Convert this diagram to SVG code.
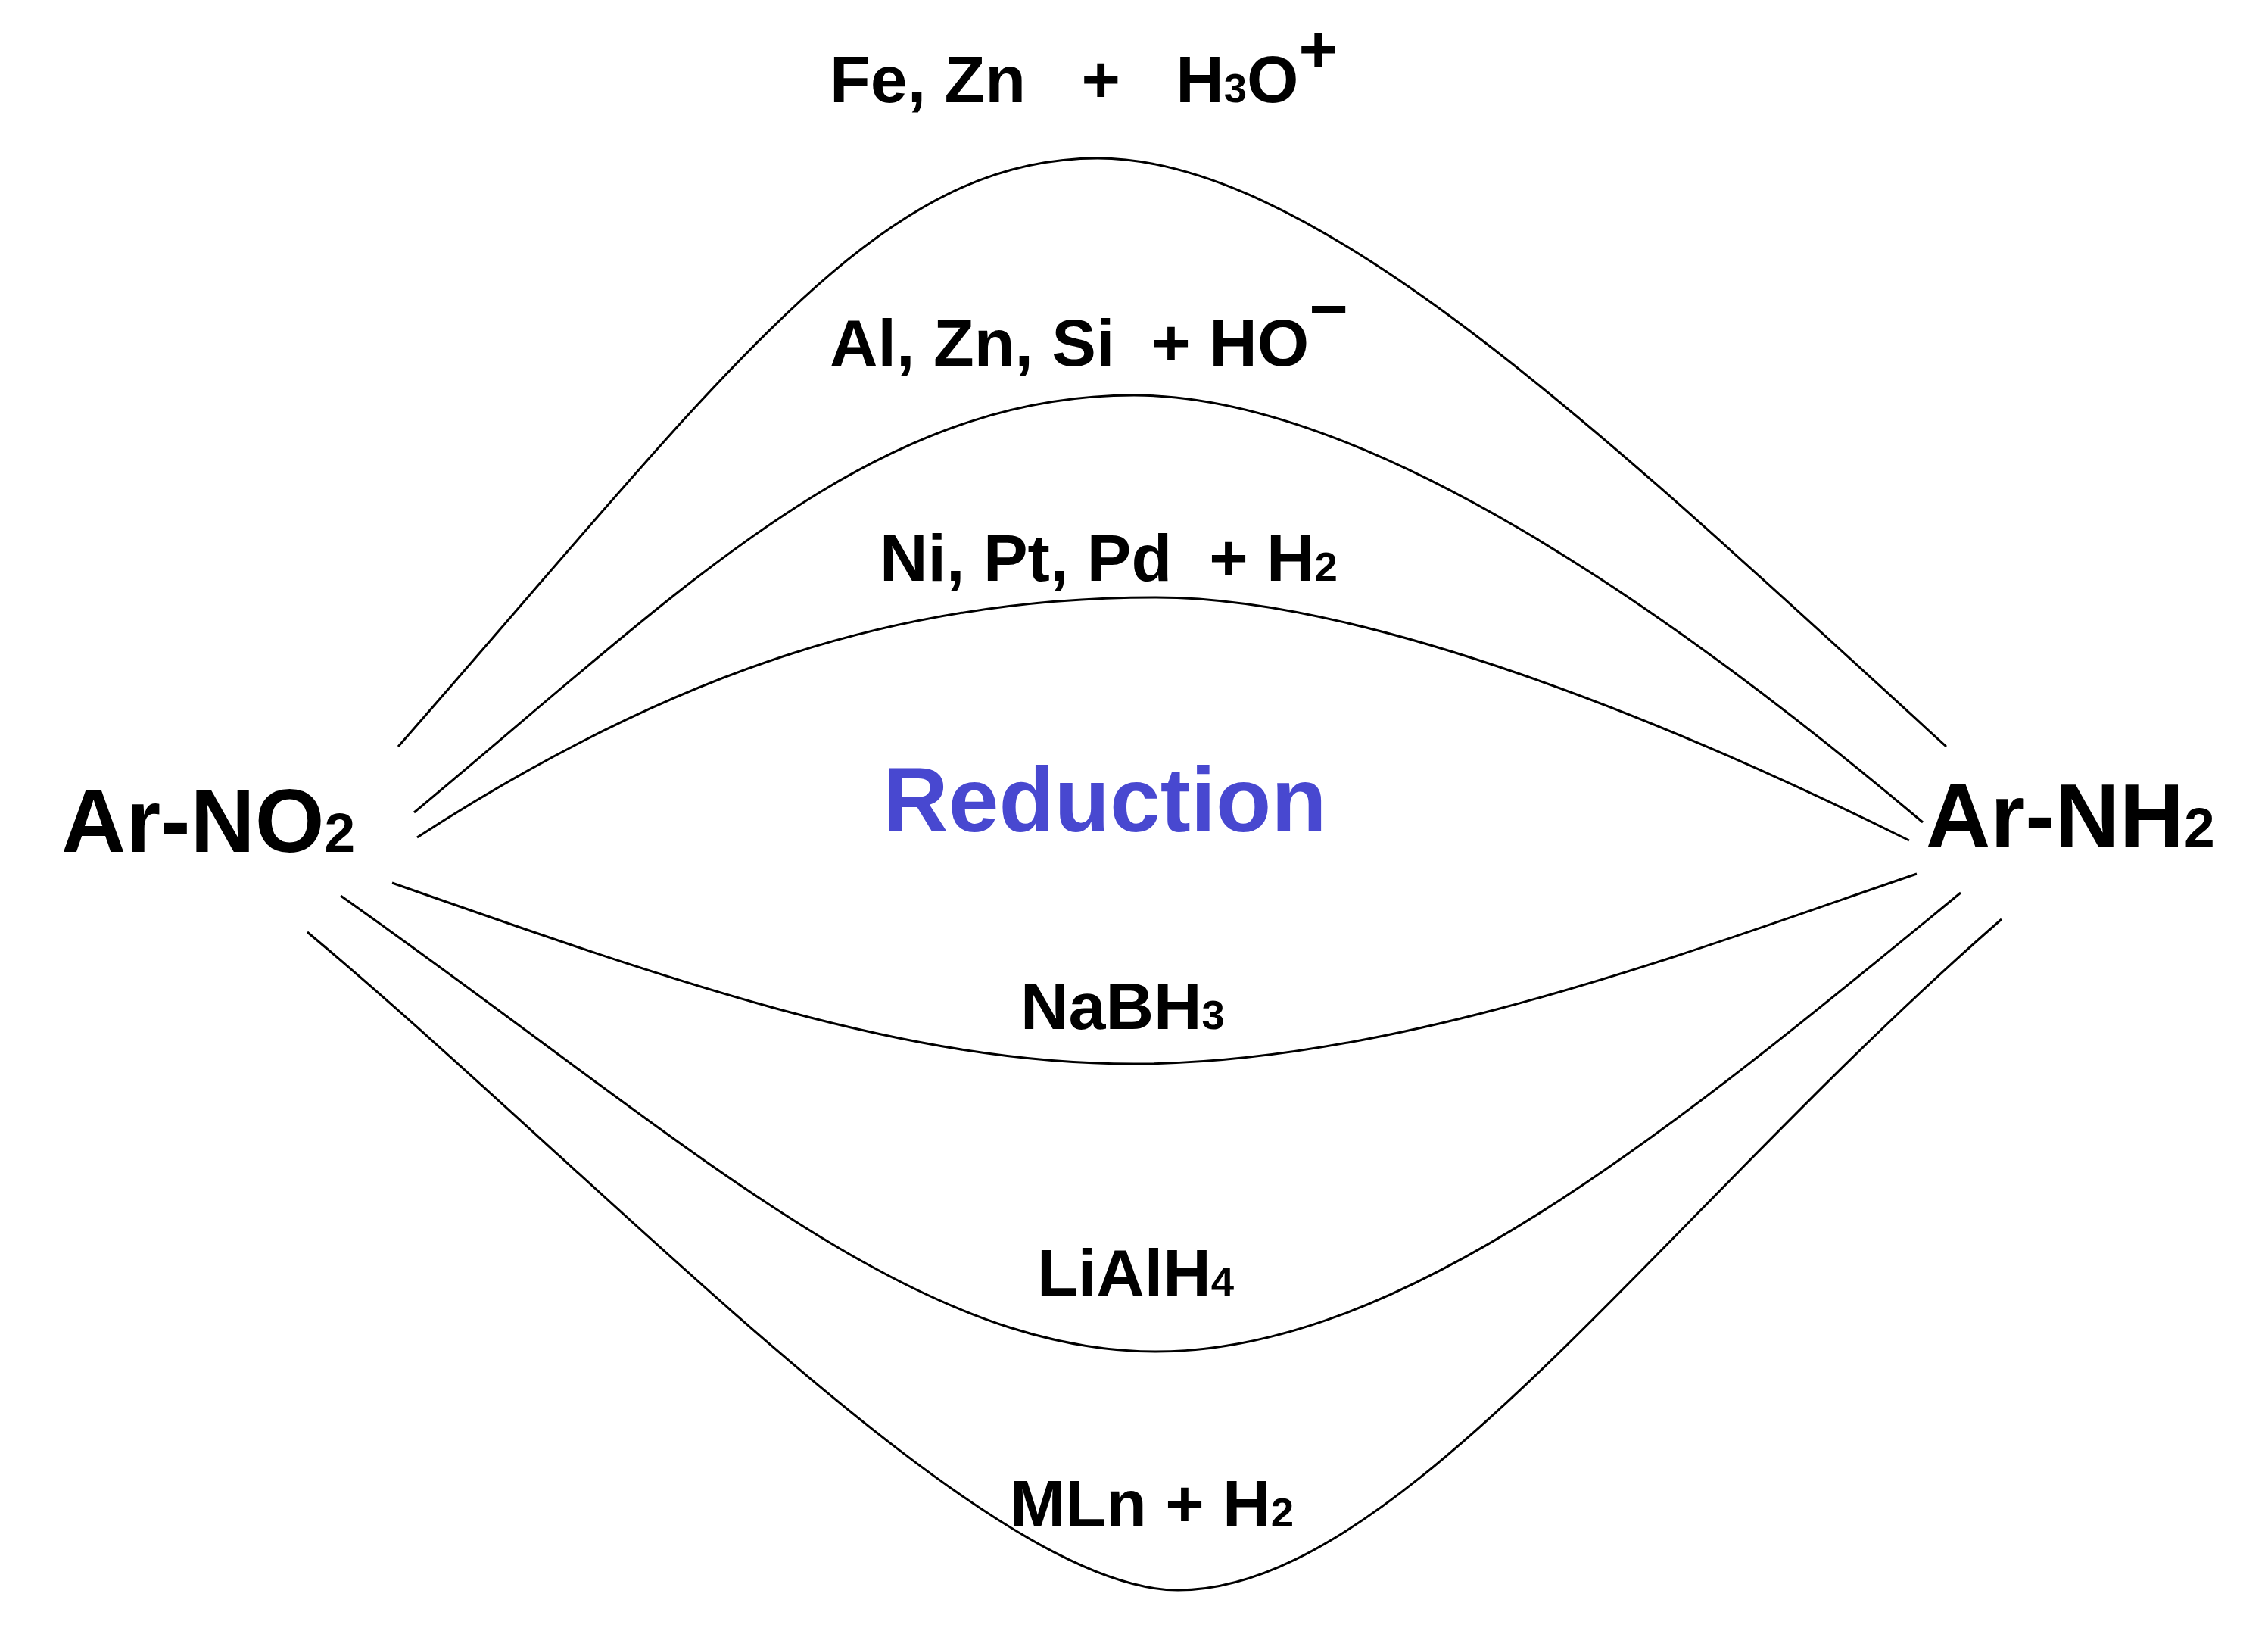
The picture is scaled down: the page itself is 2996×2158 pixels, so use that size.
<svg xmlns="http://www.w3.org/2000/svg" width="2996" height="2158" viewBox="0 0 2996 2158">
<style>
.c{fill:none;stroke:#000;stroke-width:3}
.l{font-family:"Liberation Sans",Arial,sans-serif;font-weight:bold;font-size:88px;fill:#000;white-space:pre}
.n{font-family:"Liberation Sans",Arial,sans-serif;font-weight:bold;font-size:118px;fill:#000}
.s{font-size:62%}
</style>
<rect width="2996" height="2158" fill="#fff"/>
<g id="connectors">
<path class="c" d="M526,986 C967,483 1160,209 1450,209 C1740,209 2126,580 2571,986"/>
<path class="c" d="M547,1073 C900,780 1150,522 1498,522 C1800,522 2200,800 2540,1086"/>
<path class="c" d="M551,1106 C900,880 1200,789 1527,789 C1800,789 2200,950 2522,1110"/>
<path class="c" d="M518,1166 C900,1300 1200,1405 1498,1405 C1850,1405 2250,1250 2532,1154"/>
<path class="c" d="M450,1183 C900,1500 1200,1785 1527,1785 C1850,1785 2200,1500 2590,1179"/>
<path class="c" d="M406,1231 C800,1560 1300,2100 1556,2100 C1850,2100 2200,1600 2644,1214"/>
</g>
<g id="arno2"><text class="n" x="81" y="1125">Ar-NO<tspan class="s">2</tspan></text></g>
<g id="arnh2"><text class="n" x="2544" y="1118">Ar-NH<tspan class="s">2</tspan></text></g>
<g id="reduction"><text x="1166" y="1098" style="font-family:'Liberation Sans',Arial,sans-serif;font-weight:bold;font-size:120px;fill:#4848d0">Reduction</text></g>
<g id="l1"><text class="l" x="1096" y="135">Fe, Zn   +   H<tspan class="s">3</tspan>O<tspan dy="-40" font-size="88px">+</tspan></text></g>
<g id="l2"><text class="l" x="1096" y="483">Al, Zn, Si  + HO<tspan dy="-45">−</tspan></text></g>
<g id="l3"><text class="l" x="1162" y="767">Ni, Pt, Pd  + H<tspan class="s">2</tspan></text></g>
<g id="l4"><text class="l" x="1348" y="1359">NaBH<tspan class="s">3</tspan></text></g>
<g id="l5"><text class="l" x="1370" y="1711">LiAlH<tspan class="s">4</tspan></text></g>
<g id="l6"><text class="l" x="1334" y="2016">MLn + H<tspan class="s">2</tspan></text></g>
</svg>
